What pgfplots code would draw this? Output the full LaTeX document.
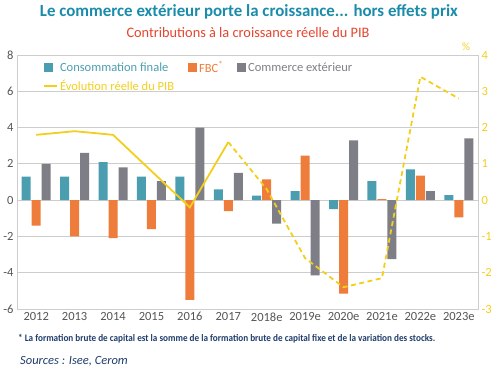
\documentclass[border=0pt]{standalone}
\usepackage{fontspec}
\setmainfont{Carlito}
\usepackage{graphicx}
\usepackage{pgfplots}
\pgfplotsset{compat=1.18}
\definecolor{cteal}{HTML}{4B9DB0}
\definecolor{corange}{HTML}{EE7D3B}
\definecolor{cgrey}{HTML}{7E7E86}
\definecolor{cyellow}{HTML}{F2CF1D}
\definecolor{ctitle}{HTML}{1A8CAA}
\definecolor{csub}{HTML}{E5452E}
\definecolor{cnavy}{HTML}{1F3D6B}
\definecolor{gridc}{HTML}{CDCDCD}
\definecolor{labc}{HTML}{555555}
\begin{document}
\begin{tikzpicture}
\path[use as bounding box] (0bp,0bp) rectangle (500bp,377bp);
\begin{axis}[at={(17bp,68bp)}, anchor=south west, scale only axis,
  width=461bp, height=254bp,
  xmin=-0.5, xmax=11.5, ymin=-6, ymax=8, ytick={-6,-4,...,8},
  xtick={0,...,11},
  xticklabels={2012,2013,2014,2015,2016,2017,2018e,2019e,2020e,2021e,2022e,2023e},
  ymajorgrids, grid style={draw=gridc, line width=0.8bp},
  axis line style={draw=gridc, line width=0.8bp}, major tick length=0pt,
  ybar, bar width=9bp,
  tick label style={font=\fontsize{12.5bp}{14bp}\selectfont, text=labc},
  /pgf/number format/assume math mode=true,
  legend columns=3, legend cell align=left,
  legend style={draw=none, fill=none, at={(0.05,0.99)}, anchor=north west,
    font=\fontsize{12.5bp}{14bp}\selectfont, row sep=2bp,
    /tikz/every odd column/.append style={column sep=0bp},
    /tikz/every even column/.append style={column sep=12bp}},
  ]
\addplot[fill=cteal, draw=none, bar shift=-10bp,
  legend image code/.code={\fill[cteal] (0bp,-4.5bp) rectangle (9bp,4.5bp);}]
  coordinates {(0,1.3) (1,1.3) (2,2.1) (3,1.3) (4,1.3) (5,0.6) (6,0.25) (7,0.5) (8,-0.5) (9,1.05) (10,1.7) (11,0.28)};
\addlegendentry{\textcolor{cteal}{Consommation finale}}
\addplot[fill=corange, draw=none, bar shift=0bp,
  legend image code/.code={\fill[corange] (0bp,-4.5bp) rectangle (9bp,4.5bp);}]
  coordinates {(0,-1.4) (1,-2.0) (2,-2.1) (3,-1.6) (4,-5.5) (5,-0.6) (6,1.15) (7,2.45) (8,-5.15) (9,0.05) (10,1.35) (11,-0.95)};
\addlegendentry{\textcolor{corange}{FBC\textsuperscript{*}}}
\addplot[fill=cgrey, draw=none, bar shift=10bp,
  legend image code/.code={\fill[cgrey] (0bp,-4.5bp) rectangle (9bp,4.5bp);}]
  coordinates {(0,2.0) (1,2.6) (2,1.8) (3,1.05) (4,4.0) (5,1.5) (6,-1.3) (7,-4.15) (8,3.3) (9,-3.25) (10,0.5) (11,3.4)};
\addlegendentry{\textcolor{cgrey}{Commerce extérieur}}
\addlegendimage{legend image code/.code={\draw[cyellow, line width=1.8bp] (0bp,0bp) -- (13bp,0bp);}}
\addlegendentry{\textcolor{cyellow}{Évolution réelle du PIB}}
\end{axis}
\begin{axis}[at={(17bp,68bp)}, anchor=south west, scale only axis,
  width=461bp, height=254bp,
  xmin=-0.5, xmax=11.5, ymin=-3, ymax=4, ytick={-3,...,4},
  axis y line*=right, axis x line=none,
  axis line style={draw=gridc, line width=0.8bp, -}, major tick length=0pt,
  yticklabel style={font=\fontsize{12.5bp}{14bp}\selectfont, text=cyellow},
  /pgf/number format/assume math mode=true,
  ]
\addplot[cyellow, line width=1.8bp, mark=none]
  coordinates {(0,1.8) (1,1.9) (2,1.8) (3,0.8) (4,-0.2) (5,1.6)};
\addplot[cyellow, line width=1.8bp, mark=none, dash pattern=on 5bp off 3.5bp]
  coordinates {(5,1.6) (6,0.3) (7,-1.6) (8,-2.4) (9,-2.15) (10,3.4) (11,2.8)};
\end{axis}
\node[text=cyellow, font=\fontsize{11bp}{13bp}\selectfont] at (466bp,330bp) {\%};
\node[anchor=center] at (249bp,365bp) {\resizebox{418bp}{\height}{\color{ctitle}\bfseries\fontsize{17bp}{20bp}\selectfont Le commerce extérieur porte la croissance... hors effets prix}};
\node[anchor=center] at (248bp,344bp) {\resizebox{243bp}{\height}{\color{csub}\fontsize{14.5bp}{17bp}\selectfont Contributions à la croissance réelle du PIB}};
\node[anchor=west, inner sep=0pt] at (18bp,38bp) {\resizebox{417bp}{\height}{\color{cnavy}\bfseries\fontsize{10bp}{12bp}\selectfont * La formation brute de capital est la somme de la formation brute de capital fixe et de la variation des stocks.}};
\node[anchor=west, inner sep=0pt, text=cnavy] at (20bp,16bp) {\fontsize{12.5bp}{14bp}\selectfont\itshape Sources : Isee, Cerom};
\end{tikzpicture}
\end{document}
